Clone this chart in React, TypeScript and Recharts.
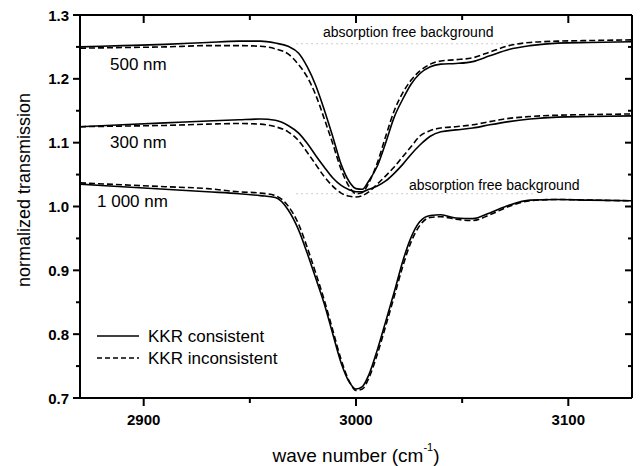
import { LineChart, Line, XAxis, YAxis } from "recharts"

// wave number grid (cm^-1)
const waveNumbers = [
	2870, 2890, 2910, 2930, 2945, 2955, 2962, 2968, 2973, 2977, 2981, 2985, 2989, 2993, 2997, 3000, 3003,
	3006, 3010, 3014, 3018, 3022, 3026, 3030, 3035, 3040, 3047, 3055, 3063, 3072, 3082, 3095, 3110, 3130,
]

// 500 nm film
const t500Consistent = [
	1.25, 1.252, 1.254, 1.257, 1.259, 1.259, 1.256, 1.251, 1.24, 1.219, 1.19, 1.152, 1.11, 1.066, 1.038, 1.028,
	1.027, 1.04, 1.063, 1.1, 1.14, 1.168, 1.192, 1.208, 1.219, 1.223, 1.224, 1.227, 1.236, 1.246, 1.252, 1.256,
	1.257, 1.258,
]
const t500Inconsistent = [
	1.248, 1.249, 1.25, 1.252, 1.252, 1.251, 1.247, 1.239, 1.222, 1.203, 1.175, 1.138, 1.099, 1.058, 1.03, 1.02,
	1.022, 1.037, 1.068, 1.11, 1.15, 1.178, 1.198, 1.212, 1.223, 1.228, 1.23, 1.233, 1.242, 1.252, 1.257, 1.259,
	1.26, 1.261,
]

// 300 nm film
const t300Consistent = [
	1.125, 1.128, 1.131, 1.134, 1.136, 1.137, 1.135, 1.127, 1.115, 1.099, 1.08, 1.062, 1.045, 1.033, 1.026, 1.023,
	1.023, 1.027, 1.032, 1.04, 1.052, 1.066, 1.082, 1.096, 1.11, 1.117, 1.12, 1.123, 1.128, 1.133, 1.137, 1.14,
	1.141, 1.142,
]
const t300Inconsistent = [
	1.125, 1.126, 1.127, 1.129, 1.13, 1.129, 1.125, 1.117, 1.103, 1.085, 1.066, 1.047, 1.032, 1.021, 1.016, 1.015,
	1.017, 1.023, 1.035, 1.048, 1.062, 1.078, 1.094, 1.11, 1.119, 1.123, 1.125, 1.128, 1.133, 1.138, 1.141, 1.143,
	1.144, 1.145,
]

// 1 000 nm film
const t1000Consistent = [
	1.035, 1.031, 1.027, 1.023, 1.02, 1.017, 1.014, 0.995, 0.963, 0.927, 0.888, 0.848, 0.801, 0.755, 0.724, 0.714,
	0.718, 0.736, 0.775, 0.82, 0.866, 0.914, 0.952, 0.976, 0.986, 0.987, 0.982, 0.981, 0.99, 1.002, 1.01, 1.011,
	1.01, 1.009,
]
const t1000Inconsistent = [
	1.037, 1.034, 1.031, 1.028, 1.023, 1.021, 1.017, 1.001, 0.972, 0.936, 0.896, 0.854, 0.807, 0.76, 0.725, 0.712,
	0.714, 0.731, 0.768, 0.813, 0.859, 0.906, 0.945, 0.97, 0.983, 0.984, 0.98, 0.978, 0.987, 1.0, 1.009, 1.011,
	1.01, 1.009,
]

// absorption free background guides
const bgUpper = [
	{ w: 2972, t: 1.255 },
	{ w: 3077, t: 1.255 },
]
const bgLower = [
	{ w: 2972, t: 1.02 },
	{ w: 3084, t: 1.02 },
]

const xTicks = [2900, 2950, 3000, 3050, 3100]
const yTicks = [0.7, 0.75, 0.8, 0.85, 0.9, 0.95, 1.0, 1.05, 1.1, 1.15, 1.2, 1.25, 1.3]

const data = waveNumbers.map((w, i) => ({
	w,
	c500: t500Consistent[i],
	i500: t500Inconsistent[i],
	c300: t300Consistent[i],
	i300: t300Inconsistent[i],
	c1000: t1000Consistent[i],
	i1000: t1000Inconsistent[i],
}))

const FONT = "'Liberation Sans', Arial, sans-serif"

const isMajorX = (v: number) => v % 100 === 0
const isMajorY = (v: number) => Math.round(v * 100) % 10 === 0

const BottomTick = ({ x, y, payload }: any) => {
	const major = isMajorX(payload.value)
	return (
		<g>
			<path d={`M${x},${y}V${y + (major ? 8 : 5)}`} stroke="#000" strokeWidth={2} fill="none" />
			{major && (
				<text x={x} y={y + 21} textAnchor="middle" dominantBaseline="central" fontFamily={FONT} fontWeight="bold" fontSize={15} fill="#000">
					{payload.value}
				</text>
			)}
		</g>
	)
}

const TopTick = ({ x, y, payload }: any) => {
	const major = isMajorX(payload.value)
	return <path d={`M${x},${y}V${y + (major ? 8 : 5)}`} stroke="#000" strokeWidth={2} fill="none" />
}

const LeftTick = ({ x, y, payload }: any) => {
	const major = isMajorY(payload.value)
	return (
		<g>
			<path d={`M${x},${y}H${x - (major ? 7 : 4)}`} stroke="#000" strokeWidth={2} fill="none" />
			{major && (
				<text x={x - 11} y={y} textAnchor="end" dominantBaseline="central" fontFamily={FONT} fontWeight="bold" fontSize={15} fill="#000">
					{payload.value.toFixed(1)}
				</text>
			)}
		</g>
	)
}

const RightTick = ({ x, y, payload }: any) => {
	const major = isMajorY(payload.value)
	return <path d={`M${x},${y}H${x - (major ? 7 : 4)}`} stroke="#000" strokeWidth={2} fill="none" />
}

const labelStyle = { fontFamily: FONT, fill: "#000" }

export default function App() {
	const solid = { stroke: "#000", strokeWidth: 1.6, dot: false, isAnimationActive: false, type: "monotone" as const }
	const dashed = { ...solid, strokeDasharray: "6 3" }
	const axisLine = { stroke: "#000", strokeWidth: 2 }
	return (
		<div style={{ position: "absolute", left: 0, top: 0, width: 640, height: 466, background: "#fff" }}>
			<LineChart width={640} height={466} data={data} margin={{ top: 0, right: 0, bottom: 0, left: 0 }}>
				<XAxis
					dataKey="w"
					type="number"
					domain={[2870, 3130]}
					ticks={xTicks}
					allowDataOverflow
					height={68}
					tickSize={0}
					tickMargin={0}
					tickLine={false}
					tick={BottomTick}
					axisLine={axisLine}
				/>
				<XAxis
					xAxisId="top"
					dataKey="w"
					orientation="top"
					type="number"
					domain={[2870, 3130]}
					ticks={xTicks}
					allowDataOverflow
					height={15}
					tickSize={0}
					tickMargin={0}
					tickLine={false}
					tick={TopTick}
					axisLine={axisLine}
				/>
				<YAxis
					type="number"
					domain={[0.7, 1.3]}
					ticks={yTicks}
					allowDataOverflow
					width={80}
					tickSize={0}
					tickMargin={0}
					tickLine={false}
					tick={LeftTick}
					axisLine={axisLine}
				/>
				<YAxis
					yAxisId="right"
					orientation="right"
					type="number"
					domain={[0.7, 1.3]}
					ticks={yTicks}
					allowDataOverflow
					width={8}
					tickSize={0}
					tickMargin={0}
					tickLine={false}
					tick={RightTick}
					axisLine={axisLine}
				/>
				<Line data={bgUpper} dataKey="t" stroke="#999" strokeWidth={1} strokeDasharray="1 4" dot={false} isAnimationActive={false} />
				<Line data={bgLower} dataKey="t" stroke="#999" strokeWidth={1} strokeDasharray="1 4" dot={false} isAnimationActive={false} />
				<Line dataKey="c500" {...solid} />
				<Line dataKey="i500" {...dashed} />
				<Line dataKey="c300" {...solid} />
				<Line dataKey="i300" {...dashed} />
				<Line dataKey="c1000" {...solid} />
				<Line dataKey="i1000" {...dashed} />
			</LineChart>
			<svg width={640} height={466} style={{ position: "absolute", left: 0, top: 0, pointerEvents: "none" }}>
				<text x={110} y={64} dominantBaseline="central" fontSize={17} {...labelStyle}>500 nm</text>
				<text x={110} y={142} dominantBaseline="central" fontSize={17} {...labelStyle}>300 nm</text>
				<text x={97} y={201} dominantBaseline="central" fontSize={17} {...labelStyle}>1 000 nm</text>
				<text x={323} y={32} dominantBaseline="central" fontSize={14} {...labelStyle}>absorption free background</text>
				<text x={409} y={185} dominantBaseline="central" fontSize={14} {...labelStyle}>absorption free background</text>
				<line x1={97} x2={139} y1={336} y2={336} stroke="#000" strokeWidth={1.3} />
				<text x={148} y={336} dominantBaseline="central" fontSize={17} {...labelStyle}>KKR consistent</text>
				<line x1={97} x2={139} y1={358} y2={358} stroke="#000" strokeWidth={1.3} strokeDasharray="5 3" />
				<text x={148} y={358} dominantBaseline="central" fontSize={17} {...labelStyle}>KKR inconsistent</text>
				<text x={24} y={190} textAnchor="middle" dominantBaseline="central" fontSize={18} transform="rotate(-90 24 190)" {...labelStyle}>
					normalized transmission
				</text>
				<text x={356} y={455} textAnchor="middle" dominantBaseline="central" fontSize={19} {...labelStyle}>
					wave number (cm<tspan dy={-8} fontSize={11}>-1</tspan><tspan dy={8}>)</tspan>
				</text>
			</svg>
		</div>
	)
}
